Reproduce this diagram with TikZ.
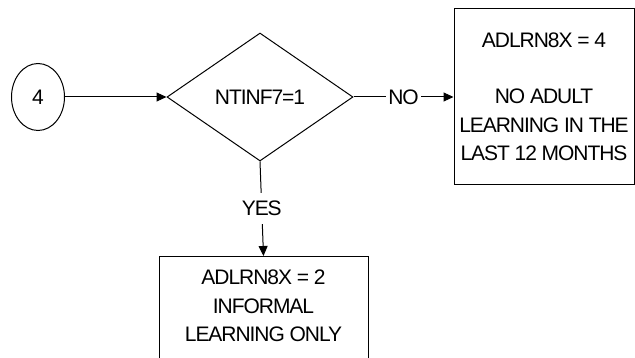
\documentclass[tikz,border=0pt]{standalone}
\usepackage{fontspec}
\setmainfont{Liberation Sans}[LetterSpace=-5.0]
\usetikzlibrary{shapes.geometric, arrows.meta, positioning}
\newcommand{\flowfont}{\fontsize{21}{28.5}\selectfont}
\tikzset{
  basebox/.style={rectangle,draw=black,line width=1pt,align=center,font=\flowfont},
  startnode/.style={ellipse,draw=black,line width=1pt,minimum width=53pt,minimum height=67pt,inner sep=0pt,font=\flowfont},
  testnode/.style={diamond,draw=black,line width=1pt,minimum width=186pt,minimum height=128pt,inner sep=0pt,font=\flowfont},
  nonode/.style={basebox,minimum width=180pt,minimum height=176pt,inner sep=0pt},
  yesnode/.style={basebox,minimum width=209pt,minimum height=130pt,inner sep=0pt,anchor=north},
  boxtext/.style={align=center,font=\flowfont,inner sep=0pt},
  lbl/.style={fill=white,font=\flowfont,inner xsep=2pt,inner ysep=8pt},
  arr/.style={-{Triangle[length=10pt,width=9pt]},line width=1pt,color=black}
}
\begin{document}
\begin{tikzpicture}[x=1pt,y=-1pt]
  \useasboundingbox (0,0) rectangle (635,358);
  \node[startnode] (start) at (38,97) {4};
  \node[testnode] (test) at (260,97) {NTINF7=1};
  \node[nonode] (nobox) at (544,97) {ADLRN8X = 4\\[28pt]NO ADULT\\LEARNING IN THE\\LAST 12 MONTHS};
  \node[yesnode] (yesbox) at (263.5,256) {};
  \node[boxtext] (yestext) at (263.5,306) {ADLRN8X = 2\\INFORMAL\\LEARNING ONLY};
  % connectors
  \draw[arr] (start.east) -- (test.west);
  \draw[arr] (test.east) -- node[lbl] (nolbl) {NO} (nobox.west);
  \draw[arr] (test.south) -- node[lbl] (yeslbl) {YES} (yesbox.north);
\end{tikzpicture}
\end{document}
